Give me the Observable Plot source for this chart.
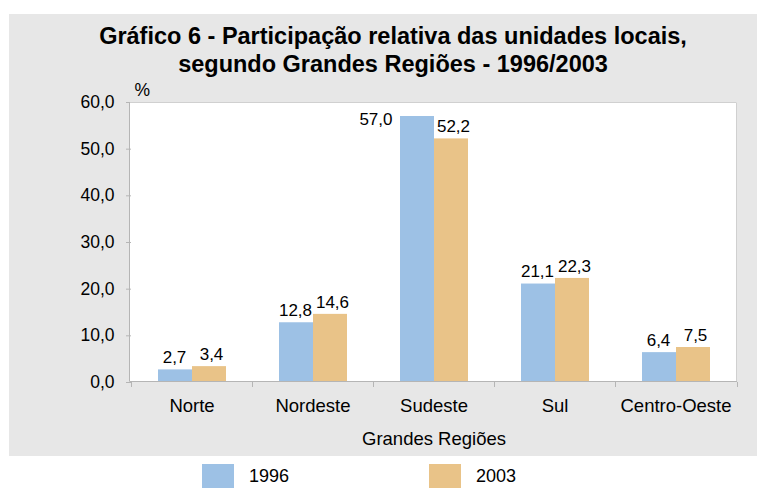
<!DOCTYPE html>
<html>
<head>
<meta charset="utf-8">
<script src="https://cdn.jsdelivr.net/npm/d3@7"></script>
<script src="https://cdn.jsdelivr.net/npm/@observablehq/plot@0.6"></script>
<style>
  html, body { margin: 0; padding: 0; background: #ffffff; }
  #wrap { position: relative; width: 758px; height: 488px; overflow: hidden; font-family: "Liberation Sans", Arial, sans-serif; color: #000; }
  #panel { position: absolute; left: 9px; top: 14px; width: 748px; height: 442px; background: #e7e7e7; }
  #title { position: absolute; left: 19px; top: 22px; width: 748px; text-align: center; font-weight: bold; font-size: 23.5px; line-height: 28px; }
  #chart { position: absolute; left: 0; top: 80px; }
  .leg { position: absolute; top: 464px; display: flex; align-items: center; font-size: 18px; }
  .sw { width: 32px; height: 24px; margin-right: 15px; }
</style>
</head>
<body>
<div id="wrap">
  <div id="panel"></div>
  <div id="title">Gráfico 6 - Participação relativa das unidades locais,<br>segundo Grandes Regiões - 1996/2003</div>
  <div id="chart"></div>
  <div id="legend"></div>
</div>
<script>
const regions = ["Norte", "Nordeste", "Sudeste", "Sul", "Centro-Oeste"];
const years = ["1996", "2003"];
const values1996 = [2.7, 12.8, 57.0, 21.1, 6.4];
const values2003 = [3.4, 14.6, 52.2, 22.3, 7.5];
const yTicks = [0, 10, 20, 30, 40, 50, 60];
const colors = ["#9dc1e5", "#e9c388"];

const data = regions.flatMap((r, i) => [
  {region: r, year: years[0], value: values1996[i]},
  {region: r, year: years[1], value: values2003[i]}
]);
const fmt = d => d.toFixed(1).replace(".", ",");
const yMax = yTicks[yTicks.length - 1];
const fitsAbove = d => d.value < 0.9 * yMax;
const labelStyle = {fx: "region", x: "year", y: "value", text: d => fmt(d.value), fill: "#000", fontSize: 17};

const plot = Plot.plot({
  width: 758,
  height: 380,
  marginLeft: 129,
  marginRight: 21,
  marginTop: 22,
  marginBottom: 78,
  style: {background: "transparent", fontFamily: "'Liberation Sans', Arial, sans-serif", fontSize: "17.5px", color: "#000", overflow: "visible"},
  fx: {domain: regions, paddingInner: 0, paddingOuter: 0},
  x: {domain: years, paddingInner: 0, paddingOuter: 0.737, axis: null},
  y: {domain: [0, yMax]},
  color: {domain: years, range: colors},
  marks: [
    Plot.barY(data, {fx: "region", x: "year", y: "value", fill: "year"}),
    Plot.text(data.filter(d => fitsAbove(d) && d.year === years[0]), {...labelStyle, dy: -12, dx: -1}),
    Plot.text(data.filter(d => fitsAbove(d) && d.year === years[1]), {...labelStyle, dy: -12, dx: 2}),
    Plot.text(data.filter(d => !fitsAbove(d)), {...labelStyle, textAnchor: "end", dx: -25, dy: 3}),
    Plot.axisY({ticks: yTicks, tickFormat: fmt, tickSize: 5, tickPadding: 12, stroke: "#b5b5b5", fill: "#000", label: "%", labelAnchor: "top", labelArrow: "none", labelOffset: -3}),
    Plot.axisFx({anchor: "bottom", tickSize: 0, tickPadding: 16, fill: "#000", fontSize: 18.5, label: "Grandes Regiões", labelAnchor: "center", labelOffset: 62})
  ]
});
document.getElementById("chart").appendChild(plot);

// plot-area background, border and category boundary ticks, positioned from the plot's scales
const fxs = plot.scale("fx");
const ys = plot.scale("y");
const svg = d3.select(plot);
const x0 = fxs.range[0], x1 = fxs.range[1];
const yTop = ys.apply(yMax), yBot = ys.apply(0);
svg.insert("rect", "g")
  .attr("x", x0).attr("y", yTop).attr("width", x1 - x0).attr("height", yBot - yTop)
  .attr("fill", "white");
const g = svg.append("g").attr("fill", "none");
g.append("path").attr("stroke", "#d0d0d0").attr("d", `M${x0 + 0.5},${yTop + 0.5}H${x1 - 0.5}V${yBot}`);
g.append("path").attr("stroke", "#b5b5b5").attr("d", `M${x0 + 0.5},${yTop}V${yBot - 0.5}H${x1}`);
const bounds = regions.map(r => fxs.apply(r)).concat([x1]);
g.selectAll("line.bt").data(bounds).join("line")
  .attr("stroke", "#b5b5b5")
  .attr("x1", d => Math.round(d) + 0.5).attr("x2", d => Math.round(d) + 0.5)
  .attr("y1", yBot).attr("y2", yBot + 5);

// legend
const legend = document.getElementById("legend");
const legendLeft = [202, 429];
years.forEach((yr, i) => {
  const item = document.createElement("div");
  item.className = "leg";
  item.style.left = legendLeft[i] + "px";
  item.innerHTML = `<div class="sw" style="background:${colors[i]}"></div><span>${yr}</span>`;
  legend.appendChild(item);
});
</script>
</body>
</html>
